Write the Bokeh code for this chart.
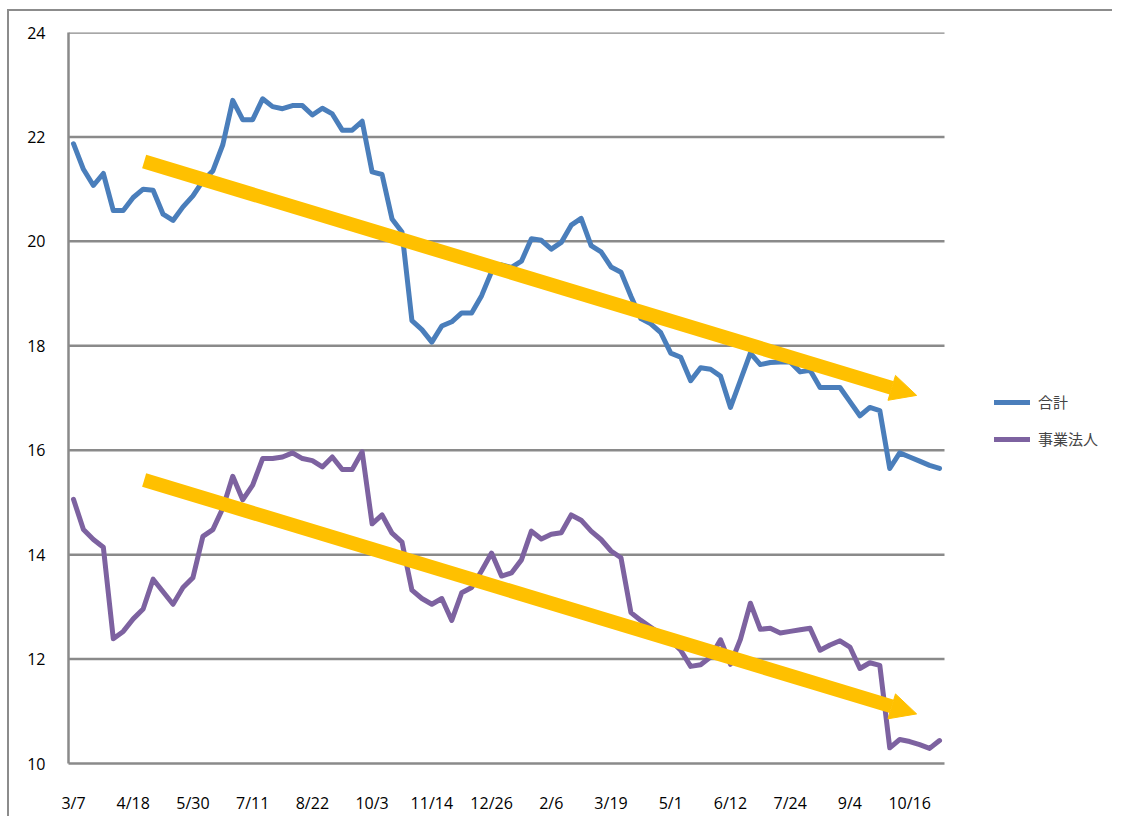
from bokeh.plotting import figure
from bokeh.models import Range1d, FixedTicker, Arrow, NormalHead, Legend, LegendItem
from bokeh.embed import file_html
from bokeh.resources import INLINE

# ---- data ----
tick_labels = ["3/7", "4/18", "5/30", "7/11", "8/22", "10/3", "11/14", "12/26",
               "2/6", "3/19", "5/1", "6/12", "7/24", "9/4", "10/16"]
label_every = 6  # a label every 6th weekly point

total_vals = [  # 合計
    21.87, 21.38, 21.07, 21.30, 20.59, 20.59, 20.84, 21.00, 20.98, 20.52,
    20.40, 20.66, 20.87, 21.16, 21.35, 21.85, 22.70, 22.33, 22.33, 22.73,
    22.58, 22.54, 22.60, 22.60, 22.42, 22.55, 22.44, 22.13, 22.13, 22.30,
    21.33, 21.28, 20.43, 20.18, 18.48, 18.31, 18.07, 18.38, 18.46, 18.63,
    18.63, 18.96, 19.42, 19.55, 19.50, 19.62, 20.05, 20.02, 19.85, 19.98,
    20.31, 20.44, 19.92, 19.80, 19.51, 19.41, 18.95, 18.52, 18.42, 18.25,
    17.86, 17.78, 17.33, 17.58, 17.55, 17.42, 16.82, 17.34, 17.86, 17.64,
    17.68, 17.69, 17.69, 17.50, 17.53, 17.20, 17.20, 17.20, 16.93, 16.66,
    16.82, 16.76, 15.65, 15.95, 15.87, 15.79, 15.71, 15.65,
]

corp_vals = [  # 事業法人
    15.06, 14.48, 14.29, 14.14, 12.39, 12.53, 12.77, 12.96, 13.53, 13.29,
    13.05, 13.37, 13.56, 14.35, 14.48, 14.89, 15.50, 15.05, 15.33, 15.84,
    15.84, 15.87, 15.95, 15.84, 15.80, 15.68, 15.87, 15.63, 15.63, 15.97,
    14.59, 14.76, 14.41, 14.24, 13.32, 13.16, 13.05, 13.16, 12.74, 13.27,
    13.37, 13.69, 14.03, 13.59, 13.65, 13.90, 14.45, 14.30, 14.39, 14.42,
    14.76, 14.66, 14.45, 14.29, 14.07, 13.94, 12.89, 12.74, 12.61, 12.48,
    12.35, 12.17, 11.86, 11.89, 12.04, 12.37, 11.90, 12.38, 13.07, 12.57,
    12.59, 12.50, 12.53, 12.56, 12.59, 12.17, 12.27, 12.35, 12.23, 11.82,
    11.93, 11.88, 10.30, 10.46, 10.42, 10.36, 10.29, 10.44,
]

y_ticks = [10, 12, 14, 16, 18, 20, 22, 24]

# trend arrows: (x_start, y_start, x_end, y_end) in data units
trend_arrows = [
    (7.1, 21.53, 84.7, 17.05),
    (7.1, 15.43, 84.7, 10.95),
]

series_names = ["合計", "事業法人"]
series_colors = ["#4a7ebb", "#7d62a0"]

# ---- layout constants (pixels) ----
W, H = 1112, 816
left_b, right_b, top_b, bottom_b = 68, 10, 32, 47
plot_area_px = 876            # width of the gridded plot area
frame_px = W - left_b - right_b   # frame also holds the legend on its right

n = len(total_vals)
xs = list(range(n))
x0, x1 = -0.5, n - 0.5
x_end = x0 + (x1 - x0) * frame_px / plot_area_px

p = figure(width=W, height=H,
           x_range=Range1d(x0, x_end), y_range=Range1d(y_ticks[0], y_ticks[-1]),
           output_backend="svg", toolbar_location=None,
           min_border_left=left_b, min_border_right=right_b,
           min_border_top=top_b, min_border_bottom=bottom_b)
p.outline_line_color = None
p.background_fill_color = "white"
p.border_fill_color = None
# chart-area border: left and top edges, drawn behind the transparent canvas border
p.styles = {
    "background": ("linear-gradient(#8c8c8c,#8c8c8c) 7px 9px / 2px 100% no-repeat, "
                   "linear-gradient(#8c8c8c,#8c8c8c) 7px 9px / 100% 2px no-repeat, white"),
}

# horizontal gridlines only across the plot area
p.xgrid.visible = False
p.ygrid.visible = False
p.segment(x0=[x0] * (len(y_ticks) - 1), x1=[x1] * (len(y_ticks) - 1),
          y0=y_ticks[1:], y1=y_ticks[1:],
          line_color="#8a8a8a", line_width=2.5)

tick_font = "Open Sans"
p.yaxis.ticker = FixedTicker(ticks=y_ticks)
p.xaxis.ticker = FixedTicker(ticks=[i * label_every for i in range(len(tick_labels))])
p.xaxis.major_label_overrides = {i * label_every: lab for i, lab in enumerate(tick_labels)}
p.xaxis.bounds = (x0, x1)
for ax in (p.xaxis, p.yaxis):
    ax.axis_line_color = "#8a8a8a"
    ax.axis_line_width = 2.5
    ax.major_tick_line_color = None
    ax.minor_tick_line_color = None
    ax.major_label_text_font = tick_font
    ax.major_label_text_font_size = "16px"
    ax.major_label_text_color = "black"
p.yaxis.major_label_standoff = 17
p.xaxis.major_label_standoff = 22

r1 = p.line(xs, total_vals, line_color=series_colors[0], line_width=5,
            line_join="round", line_cap="round")
r2 = p.line(xs, corp_vals, line_color=series_colors[1], line_width=5,
            line_join="round", line_cap="round")

for xs0, ys0, xe, ye in trend_arrows:
    p.add_layout(Arrow(x_start=xs0, y_start=ys0, x_end=xe, y_end=ye,
                       line_color="#ffc000", line_width=14, line_cap="butt",
                       end=NormalHead(size=26, fill_color="#ffc000",
                                      line_color="#ffc000", line_width=1)))

legend = Legend(items=[LegendItem(label=series_names[0], renderers=[r1]),
                       LegendItem(label=series_names[1], renderers=[r2])],
                location=(926, 314), orientation="vertical",
                glyph_width=36, glyph_height=20, label_height=20,
                spacing=16, padding=0, margin=0, label_standoff=8,
                border_line_color=None, background_fill_alpha=0,
                label_text_font="Noto Sans CJK JP", label_text_font_size="15px")
p.add_layout(legend)

open("out.html", "w").write(file_html(p, INLINE))
